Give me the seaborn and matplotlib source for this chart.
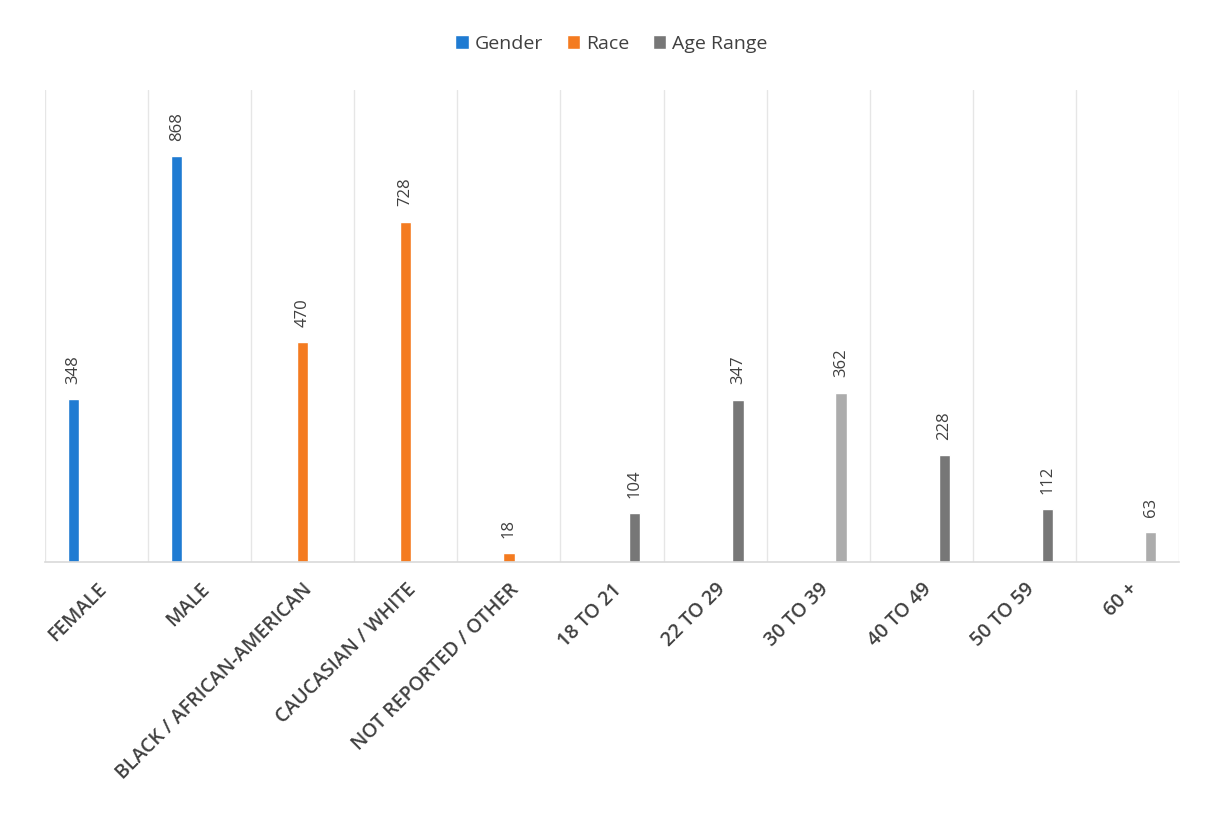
import matplotlib
matplotlib.use("Agg")
import matplotlib.pyplot as plt
from matplotlib.patches import Patch
import seaborn as sns
import pandas as pd

categories = ["FEMALE", "MALE", "BLACK / AFRICAN-AMERICAN", "CAUCASIAN / WHITE",
              "NOT REPORTED / OTHER", "18 TO 21", "22 TO 29", "30 TO 39",
              "40 TO 49", "50 TO 59", "60 +"]
groups = ["Gender", "Gender", "Race", "Race", "Race",
          "Age Range", "Age Range", "Age Range", "Age Range", "Age Range", "Age Range"]
values = [348, 868, 470, 728, 18, 104, 347, 362, 228, 112, 63]
series = ["Gender", "Race", "Age Range"]
series_colors = ["#1f7bd2", "#f47b20", "#777777"]
light_bars = ["30 TO 39", "60 +"]

df = pd.DataFrame({"Category": categories, "Group": groups, "Count": values})

sns.set_theme(style="white")
plt.rcParams["font.family"] = ["Open Sans", "DejaVu Sans"]

fig = plt.figure(figsize=(12.06, 8.32), dpi=100)
ax = fig.add_axes([0.037, 0.325, 0.941, 0.567])

palette = dict(zip(series, series_colors))
sns.barplot(data=df, x="Category", y="Count", hue="Group", hue_order=series,
            order=categories, palette=palette, width=0.66, gap=0.5,
            dodge=True, legend=False, ax=ax, saturation=1)

for cont in ax.containers:
    ax.bar_label(cont, rotation=90, padding=11, fontsize=12, color="#404040")
    for p in cont.patches:
        idx = int(round(p.get_x() + p.get_width() / 2))
        if categories[idx] in light_bars:
            p.set_facecolor("#acacac")

ax.set_xlim(-0.5, len(categories) - 0.5)
ax.set_ylim(0, 1010)
ax.set_xlabel("")
ax.set_ylabel("")
ax.set_yticks([])
ax.set_xticks(range(len(categories)))
ax.set_xticklabels(categories, rotation=45, ha="right", rotation_mode="anchor",
                   fontsize=14, fontweight="semibold", color="#404040")
ax.tick_params(axis="x", length=0, pad=13)
ax.set_xticks([i - 0.5 for i in range(len(categories) + 1)], minor=True)
ax.grid(which="minor", axis="x", color="#e6e6e6", linewidth=1)
ax.tick_params(which="minor", length=0)
for s in ["top", "left", "right"]:
    ax.spines[s].set_visible(False)
ax.spines["bottom"].set_color("#d9d9d9")
ax.spines["bottom"].set_linewidth(1.2)

handles = [Patch(facecolor=c, label=s) for s, c in zip(series, series_colors)]
fig.legend(handles=handles, loc="center", bbox_to_anchor=(0.507, 0.947), ncol=3,
           frameon=False, handlelength=0.7, handleheight=0.7, handletextpad=0.3,
           columnspacing=1.2, fontsize=14, labelcolor="#404040")

fig.savefig("out.png", dpi=100, facecolor="white")
